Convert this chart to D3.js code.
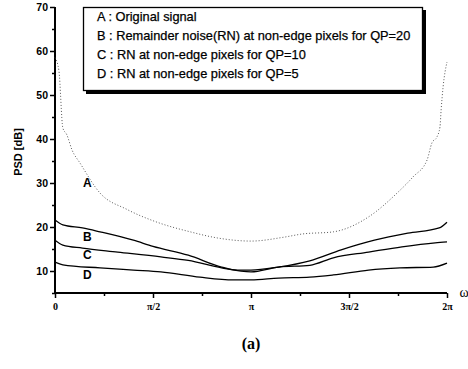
<!DOCTYPE html>
<html><head><meta charset="utf-8">
<script src="https://cdn.jsdelivr.net/npm/d3@7"></script>
<style>body{margin:0;background:#fff}svg{display:block}</style>
</head><body>
<svg id="c" width="468" height="369"></svg>
<script>
// omega in units of pi
const tA = [0,0.02,0.04,0.06,0.087,0.128,0.23,0.367,0.52,0.69,0.83,1.0,1.17,1.26,1.42,1.6,1.745,1.827,1.898,1.923,1.949,1.964,1.97,1.98,2.0];
const vA = [58.5,55.5,42.5,41,37.5,34.5,27.7,24,21.1,18.9,17.5,16.8,17.7,18.4,18.9,22.3,27.7,31.4,35.2,39.1,40.5,42.7,46.6,51.8,57.5];
const tB = [0,0.04,0.14,0.23,0.4,0.5,0.68,0.85,0.93,1.0,1.14,1.3,1.46,1.63,1.8,1.96,2.0];
const vB = [21.6,20.5,19.8,18.9,17,15.6,13.6,10.9,10.2,10.2,10.9,12.3,14.8,17,18.6,19.8,21.1];
const tC = [0,0.04,0.14,0.32,0.54,0.68,0.85,1.0,1.14,1.3,1.42,1.6,1.77,1.94,2.0];
const vC = [17,15.9,15.2,14.3,13.2,12.4,10.7,9.8,10.9,11.3,13,14.3,15.5,16.4,16.6];
const tD = [0,0.04,0.23,0.4,0.54,0.74,0.91,1.0,1.14,1.3,1.42,1.6,1.76,1.93,2.0];
const vD = [12,11.4,10.7,10.2,9.8,8.6,8,8,8.4,8.6,9.1,10.2,10.7,10.9,11.8];
const seriesNames = ["A","B","C","D"];
const legendTexts = ["A : Original signal","B : Remainder noise(RN) at non-edge pixels for QP=20","C : RN at non-edge pixels for QP=10","D : RN at non-edge pixels for QP=5"];
const yMajor = [10,20,30,40,50,60,70];
const yMinor = [5,15,25,35,45,55,65];
const xMajor = [0,0.5,1,1.5,2];
const xMajorLabels = ["0","π/2","π","3π/2","2π"];
const xMinor = [0.25,0.75,1.25,1.75];

const svg = d3.select("#c");
const x = d3.scaleLinear().domain([0,2]).range([55,447]);
const y = d3.scaleLinear().domain([5,70]).range([293,7]);

// y axis
const yAx = svg.append("g").attr("transform","translate(55,0)");
yAx.call(d3.axisLeft(y).tickValues(yMajor).tickSize(5).tickFormat(d3.format("d")));
const yAx2 = svg.append("g").attr("transform","translate(55,0)");
yAx2.call(d3.axisLeft(y).tickValues(yMinor).tickSize(3).tickFormat(""));
[yAx,yAx2].forEach(g=>{g.select(".domain").remove();});
yAx.selectAll("text").attr("font-family","Liberation Sans, Arial").attr("font-weight","bold").attr("font-size",10.5).attr("fill","#000").attr("x",-7);
svg.selectAll("g line").attr("stroke","#000").attr("stroke-width",1.5);
svg.append("line").attr("x1",55).attr("x2",55).attr("y1",y(70)).attr("y2",y(5)).attr("stroke","#000").attr("stroke-width",2);

// x axis
const xAx = svg.append("g").attr("transform","translate(0,293)");
xAx.call(d3.axisBottom(x).tickValues(xMajor).tickSize(5).tickFormat((d,i)=>xMajorLabels[i]));
const xAx2 = svg.append("g").attr("transform","translate(0,293)");
xAx2.call(d3.axisBottom(x).tickValues(xMinor).tickSize(3).tickFormat(""));
[xAx,xAx2].forEach(g=>{g.select(".domain").remove(); g.selectAll("line").attr("stroke","#000").attr("stroke-width",1.5);});
xAx.selectAll("text").attr("font-family","Liberation Serif, Times New Roman").attr("font-weight","bold").attr("font-size",10).attr("fill","#000").attr("y",10);
svg.append("line").attr("x1",x(0)).attr("x2",x(2)).attr("y1",293).attr("y2",293).attr("stroke","#000").attr("stroke-width",2.2);
svg.append("text").attr("x",464).attr("y",297).text("ω").attr("font-family","Liberation Serif").attr("font-size",14).attr("text-anchor","middle").attr("fill","#000");

// y label
svg.append("text").attr("transform","translate(22,152) rotate(-90)").attr("text-anchor","middle")
  .attr("font-family","Liberation Sans, Arial").attr("font-weight","bold").attr("font-size",11).text("PSD [dB]");

// lines
const line = d3.line().x(d=>x(d[0])).y(d=>y(d[1])).curve(d3.curveMonotoneX);
const series = [[tA,vA],[tB,vB],[tC,vC],[tD,vD]];
series.forEach((s,i)=>{
  const pts = s[0].map((t,j)=>[t,s[1][j]]).sort((a,b)=>a[0]-b[0]);
  svg.append("path").attr("d",line(pts)).attr("fill","none")
    .attr("stroke", i===0?"#444":"#000")
    .attr("stroke-width", i===0?0.9:1.3)
    .attr("stroke-dasharray", i===0?"1,2":null);
});

// curve labels
const labelPos = [[0.165,30],[0.165,17.7],[0.165,13.6],[0.165,9.1]];
seriesNames.forEach((n,i)=>{
  svg.append("text").attr("x",x(labelPos[i][0])).attr("y",y(labelPos[i][1])).attr("text-anchor","middle")
    .attr("dominant-baseline","central").attr("font-family","Liberation Sans, Arial").attr("font-weight","bold").attr("font-size",12).attr("fill","#000").text(n);
});

// legend
svg.append("rect").attr("x",86).attr("y",10).attr("width",340).attr("height",84).attr("fill","#000");
svg.append("rect").attr("x",83.5).attr("y",7.5).attr("width",339).attr("height",83).attr("fill","#fff").attr("stroke","#000").attr("stroke-width",1.3);
legendTexts.forEach((t,i)=>{
  svg.append("text").attr("x",97).attr("y",21+i*19).attr("font-family","Liberation Sans, Arial").attr("font-size",12.8)
    .attr("fill","#000").attr("stroke","#000").attr("stroke-width",0.25).text(t);
});

// caption
svg.append("text").attr("x",251).attr("y",349).attr("text-anchor","middle").attr("font-family","Liberation Serif, Times New Roman").attr("font-weight","bold").attr("font-size",16).text("(a)");
</script>
</body></html>
